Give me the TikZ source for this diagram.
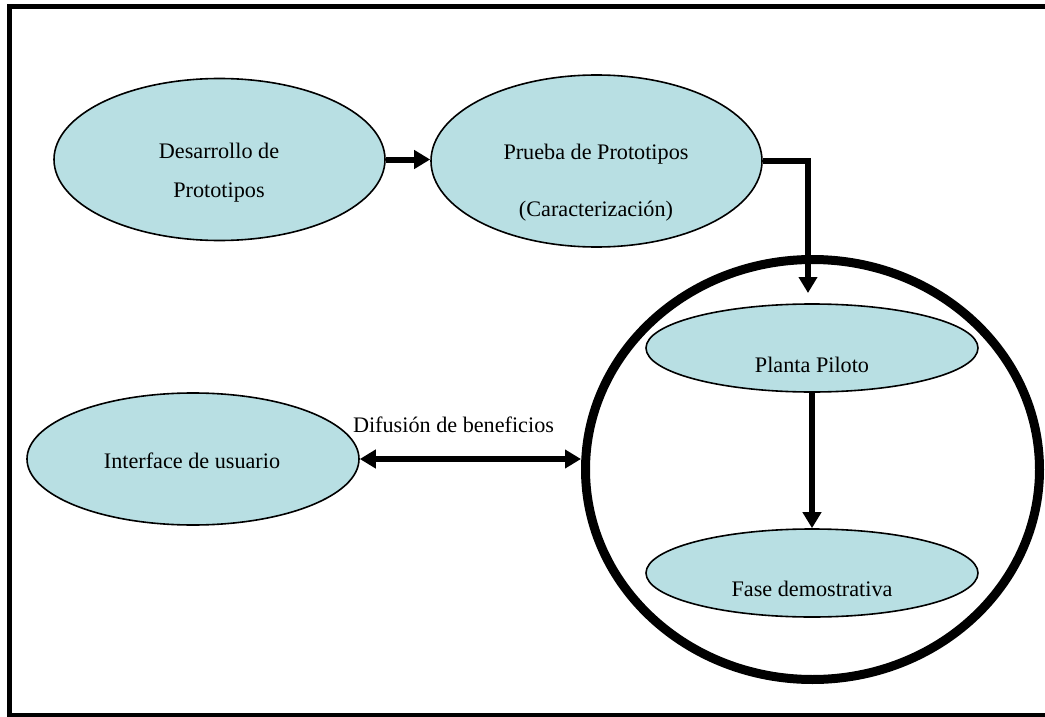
\documentclass[tikz,border=0pt]{standalone}
\usepackage{fontspec}
\setmainfont{Liberation Serif}
\usetikzlibrary{shapes.geometric,arrows.meta}
\definecolor{fellfill}{RGB}{184,223,227}
\tikzset{
  fframe/.style={line width=5pt},
  fell/.style={ellipse, draw=black, line width=1.6pt, fill=fellfill, inner sep=0pt},
  fring/.style={ellipse, draw=black, line width=9pt, inner sep=0pt},
  ftxt/.style={font=\fontsize{22.2}{26}\selectfont, anchor=base, inner sep=0pt},
  farr/.style={line width=6pt, -{Triangle[length=16pt,width=18pt]}},
  fdarr/.style={line width=6pt, {Triangle[length=16pt,width=18pt]}-{Triangle[length=16pt,width=18pt]}}
}
\begin{document}
\begin{tikzpicture}[x=1pt, y=-1pt]
    \useasboundingbox (0,0) rectangle (1045,717);
    % frame
    \draw[fframe] (1050,6.5) -- (9,6.5) -- (9,715.5) -- (1050,715.5);
    % top row
    \node[fell, minimum width=331pt, minimum height=162pt] (ddp) at (219.5,159.5) {};
    \node[ftxt] (ddp-a) at (219,158) {Desarrollo de};
    \node[ftxt] (ddp-b) at (219,197) {Prototipos};
    \node[fell, minimum width=331pt, minimum height=172pt] (pdp) at (596.5,161) {};
    \node[ftxt] (pdp-a) at (596,159) {Prueba de Prototipos};
    \node[ftxt] (pdp-b) at (596,216) {(Caracterización)};
    % ring with pilot and demo stages
    \node[fring, minimum width=454pt, minimum height=420pt] (ring) at (812.5,469.5) {};
    \node[fell, minimum width=332pt, minimum height=88pt] (pp) at (812,348) {};
    \node[ftxt] (pp-t) at (812,372) {Planta Piloto};
    \node[fell, minimum width=332pt, minimum height=88pt] (fd) at (812,573) {};
    \node[ftxt] (fd-t) at (812,596) {Fase demostrativa};
    \coordinate (pp-in) at (808,293);
    % user interface
    \node[fell, minimum width=332pt, minimum height=132pt] (iu) at (193,459) {};
    \node[ftxt] (iu-t) at (192,468) {Interface de usuario};
    \node[ftxt] (dif) at (453.5,432) {Difusión de beneficios};
    % connectors
    \draw[farr] (ddp.east) -- (ddp.east -| pdp.west);
    \draw[farr] (pdp.east) -| (pp-in);
    \draw[farr] (pp.south) -- (fd.north);
    \draw[fdarr] (iu.east) -- (iu.east -| ring.west);
\end{tikzpicture}
\end{document}
